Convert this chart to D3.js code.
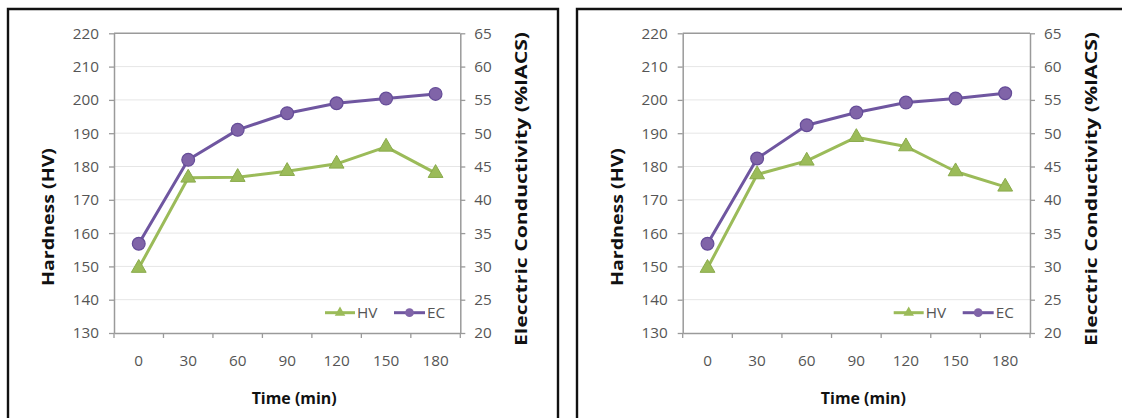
<!DOCTYPE html>
<html>
<head>
<meta charset="utf-8">
<script src="https://cdn.jsdelivr.net/npm/d3@7"></script>
<style>
  html, body { margin: 0; padding: 0; background: #fff; }
  svg { display: block; }
</style>
</head>
<body>
<svg id="chart" width="1122" height="418"></svg>
<script>
// ---- data ----
const times = ["0", "30", "60", "90", "120", "150", "180"];
const hvLeft  = [149.5, 176.6, 176.8, 178.6, 180.8, 185.9, 178.0];
const ecLeft  = [33.4, 46.0, 50.5, 53.0, 54.5, 55.2, 55.9];
const hvRight = [149.5, 177.6, 181.7, 188.8, 186.0, 178.5, 173.9];
const ecRight = [33.4, 46.2, 51.2, 53.1, 54.6, 55.2, 56.0];
const hvTicks = [130, 140, 150, 160, 170, 180, 190, 200, 210, 220];
const ecTicks = [20, 25, 30, 35, 40, 45, 50, 55, 60, 65];
const seriesNames = ["HV", "EC"];
const xTitle = "Time (min)";
const yLeftTitle = "Hardness (HV)";
const yRightTitle = "Elecctric Conductivity (%IACS)";

// ---- style ----
const GREEN = "#9bbb59", GREEN_DK = "#8aab4c";
const PURPLE = "#8064a8", PURPLE_LN = "#6f56a0", PURPLE_DK = "#654c98";
const AXIS = "#9a9a9a", GRID = "#e6e6e6", TXT = "#555555";
const FONT = "'Open Sans', 'Noto Sans', sans-serif";
const TICK_FS = "15.3px";

const svg = d3.select("#chart");

// panel frames
svg.append("path").attr("d", "M8,430 V9 H558 V430")
  .attr("fill", "none").attr("stroke", "#111").attr("stroke-width", 2.4);
svg.append("path").attr("d", "M577,430 V9 H1130")
  .attr("fill", "none").attr("stroke", "#111").attr("stroke-width", 2.4);

function drawPanel(left, right, hv, ec) {
  const top = 33.3, bottom = 333;
  const g = svg.append("g");
  const x = d3.scaleBand().domain(times).range([left, right]).padding(0);
  const bw = x.bandwidth();
  const yH = d3.scaleLinear().domain([130, 220]).range([bottom, top]);
  const yE = d3.scaleLinear().domain([20, 65]).range([bottom, top]);
  const cx = d => x(d) + bw / 2;

  // gridlines
  g.append("g").selectAll("line").data(hvTicks.slice(1, -1)).join("line")
    .attr("x1", left).attr("x2", right)
    .attr("y1", d => yH(d)).attr("y2", d => yH(d))
    .attr("stroke", GRID).attr("stroke-width", 1);
  // top border
  g.append("line").attr("x1", left).attr("x2", right)
    .attr("y1", yH(220)).attr("y2", yH(220))
    .attr("stroke", AXIS).attr("stroke-width", 1.5);

  // left axis
  const axL = g.append("g").attr("transform", `translate(${left},0)`)
    .call(d3.axisLeft(yH).tickValues(hvTicks).tickSize(5).tickPadding(10).tickSizeOuter(0));
  // right axis
  const axR = g.append("g").attr("transform", `translate(${right},0)`)
    .call(d3.axisRight(yE).tickValues(ecTicks).tickSize(5).tickPadding(9).tickSizeOuter(0));
  // bottom axis (labels centered in bands)
  const axB = g.append("g").attr("transform", `translate(0,${bottom})`)
    .call(d3.axisBottom(x).tickSize(0).tickPadding(22).tickSizeOuter(0));
  // bottom tick marks at band boundaries
  const bounds = times.map(t => x(t)).concat([right]);
  g.append("g").selectAll("line").data(bounds).join("line")
    .attr("x1", d => d).attr("x2", d => d)
    .attr("y1", bottom).attr("y2", bottom + 5)
    .attr("stroke", AXIS).attr("stroke-width", 1.3);

  [axL, axR, axB].forEach(a => {
    a.selectAll(".domain").attr("stroke", AXIS).attr("stroke-width", 1.5);
    a.selectAll(".tick line").attr("stroke", AXIS).attr("stroke-width", 1.3);
    a.selectAll("text").attr("fill", TXT).style("font-family", FONT).style("font-size", TICK_FS);
  });

  // lines
  const lineH = d3.line().x((d, i) => cx(times[i])).y(d => yH(d));
  const lineE = d3.line().x((d, i) => cx(times[i])).y(d => yE(d));
  g.append("path").attr("d", lineH(hv)).attr("fill", "none")
    .attr("stroke", GREEN).attr("stroke-width", 3).attr("stroke-linejoin", "round");
  g.append("path").attr("d", lineE(ec)).attr("fill", "none")
    .attr("stroke", PURPLE_LN).attr("stroke-width", 3).attr("stroke-linejoin", "round");

  // markers
  const tri = d3.symbol().type(d3.symbolTriangle).size(95);
  g.append("g").selectAll("path").data(hv).join("path")
    .attr("d", tri)
    .attr("transform", (d, i) => `translate(${cx(times[i])},${yH(d)})`)
    .attr("fill", GREEN).attr("stroke", GREEN_DK).attr("stroke-width", 1);
  g.append("g").selectAll("circle").data(ec).join("circle")
    .attr("cx", (d, i) => cx(times[i])).attr("cy", d => yE(d)).attr("r", 6.4)
    .attr("fill", PURPLE).attr("stroke", PURPLE_DK).attr("stroke-width", 1.2);

  // legend
  const ly = 312.7;
  const lx = left + 211;
  g.append("line").attr("x1", lx).attr("x2", lx + 30).attr("y1", ly).attr("y2", ly)
    .attr("stroke", GREEN).attr("stroke-width", 3);
  g.append("path").attr("d", d3.symbol().type(d3.symbolTriangle).size(48))
    .attr("transform", `translate(${lx + 15},${ly})`).attr("fill", GREEN);
  g.append("text").attr("x", lx + 32).attr("y", ly + 5.5).text(seriesNames[0])
    .attr("fill", TXT).style("font-family", FONT).style("font-size", TICK_FS);
  const lx2 = lx + 69;
  g.append("line").attr("x1", lx2).attr("x2", lx2 + 31).attr("y1", ly).attr("y2", ly)
    .attr("stroke", PURPLE_LN).attr("stroke-width", 3);
  g.append("circle").attr("cx", lx2 + 15.5).attr("cy", ly).attr("r", 4.4).attr("fill", PURPLE);
  g.append("text").attr("x", lx2 + 33).attr("y", ly + 5.5).text(seriesNames[1])
    .attr("fill", TXT).style("font-family", FONT).style("font-size", TICK_FS);

  // axis titles
  const tStyle = s => s.attr("fill", "#111").style("font-family", FONT)
    .style("font-weight", "bold").style("font-size", "16px")
    .attr("text-anchor", "middle").attr("lengthAdjust", "spacingAndGlyphs");
  g.append("text").attr("x", (left + right) / 2 + 7).attr("y", 404)
    .text(xTitle).call(tStyle).attr("textLength", 85);
  g.append("text").attr("transform", `translate(${left - 60},217) rotate(-90)`)
    .text(yLeftTitle).call(tStyle).attr("textLength", 138);
  g.append("text").attr("transform", `translate(${right + 67},189) rotate(-90)`)
    .text(yRightTitle).call(tStyle).attr("textLength", 314);
}

drawPanel(114, 460.3, hvLeft, ecLeft);
drawPanel(682.7, 1030, hvRight, ecRight);
</script>
</body>
</html>
